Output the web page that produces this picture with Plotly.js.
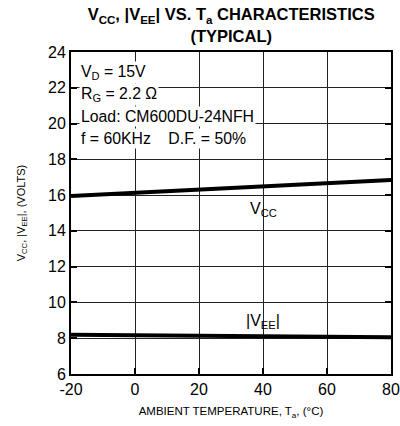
<!DOCTYPE html>
<html><head><meta charset="utf-8">
<script src="https://cdn.plot.ly/plotly-3.0.1.min.js"></script>
<style>html,body{margin:0;padding:0;background:#fff}#chart{width:400px;height:426px}</style>
</head><body><div id="chart"></div>
<script>
const temps = [-20, 0, 20, 40, 60, 80];
const vcc = [15.95, 16.12, 16.3, 16.48, 16.65, 16.85];
const vee = [8.2, 8.17, 8.14, 8.11, 8.08, 8.05];
const xTicks = [-20, 0, 20, 40, 60, 80];
const yTicks = [6, 8, 10, 12, 14, 16, 18, 20, 22, 24];
const noteLines = ["V<sub>D</sub> = 15V", "R<sub>G</sub> = 2.2 Ω", "Load: CM600DU-24NFH", "f = 60KHz    D.F. = 50%"];

const font = "Liberation Sans, Arial, Helvetica, sans-serif";
const traces = [
  {x: temps, y: vcc, mode: "lines", line: {color: "#000", width: 4}, hoverinfo: "skip"},
  {x: temps, y: vee, mode: "lines", line: {color: "#000", width: 4}, hoverinfo: "skip"}
];
const notes = noteLines.map((t, i) => ({
  xref: "paper", yref: "paper", x: 0.025, y: 0.935 - i * 0.0683,
  xanchor: "left", yanchor: "middle", showarrow: false, text: t,
  font: {family: font, size: 15.8, color: "#000"}, bgcolor: "#fff", borderpad: 1
}));
const layout = {
  width: 400, height: 426,
  margin: {l: 71, r: 9, t: 52, b: 52},
  paper_bgcolor: "#fff", plot_bgcolor: "#fff",
  showlegend: false,
  font: {family: font, color: "#000"},
  title: {text: "<b>V<sub>CC</sub>, |V<sub>EE</sub>| VS. T<sub>a</sub> CHARACTERISTICS<br>(TYPICAL)</b>",
    font: {family: font, size: 16.5, color: "#000"}, x: 0.578, xanchor: "center", y: 0.952, yanchor: "top"},
  xaxis: {range: [-20, 80], tickvals: xTicks, ticktext: xTicks.map(String),
    showgrid: true, gridcolor: "#222", gridwidth: 1, zeroline: false,
    showline: true, linecolor: "#000", linewidth: 2, mirror: true,
    ticks: "inside", ticklen: 6, tickwidth: 2, tickcolor: "#000",
    tickfont: {family: font, size: 16, color: "#000"},
    title: {text: "AMBIENT TEMPERATURE, T<sub>a</sub>, (°C)", font: {family: font, size: 11.5, color: "#000"}, standoff: 10}},
  yaxis: {range: [6, 24], tickvals: yTicks, ticktext: yTicks.map(String),
    showgrid: true, gridcolor: "#222", gridwidth: 1, zeroline: false,
    showline: true, linecolor: "#000", linewidth: 2, mirror: "ticks",
    ticks: "inside", ticklen: 6, tickwidth: 2, tickcolor: "#000",
    tickfont: {family: font, size: 16, color: "#000"},
    title: {text: "V<sub>CC</sub>, |V<sub>EE</sub>|, (VOLTS)", font: {family: font, size: 11, color: "#000"}, standoff: 20}},
  annotations: notes.concat([
    {x: 40, y: 15.2, xref: "x", yref: "y", showarrow: false, text: "V<sub>CC</sub>",
      font: {family: font, size: 16, color: "#000"}},
    {x: 40, y: 8.95, xref: "x", yref: "y", showarrow: false, text: "|V<sub>EE</sub>|",
      font: {family: font, size: 16, color: "#000"}}
  ])
};
Plotly.newPlot("chart", traces, layout, {displayModeBar: false, staticPlot: true});
</script></body></html>
